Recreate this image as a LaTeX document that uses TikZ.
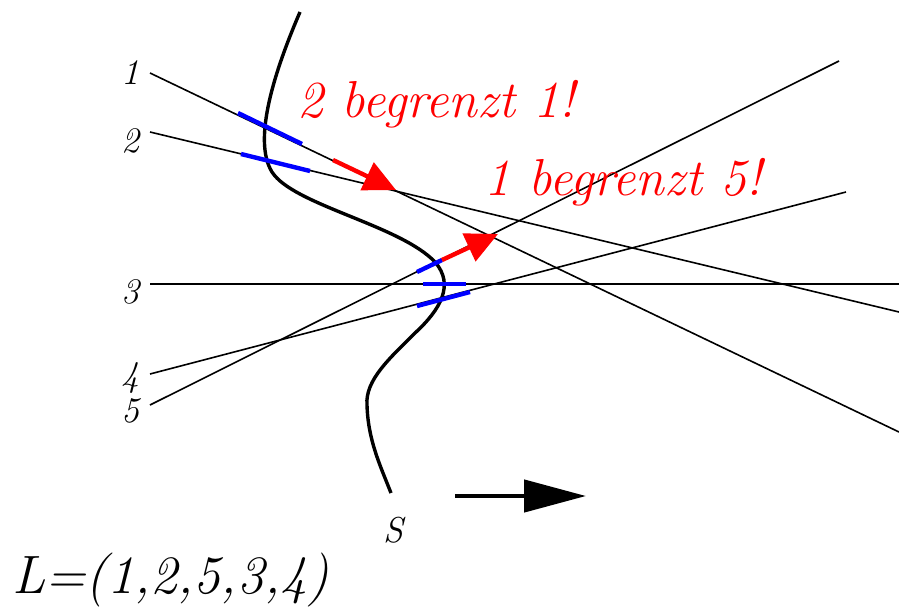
\documentclass[tikz,border=0pt]{standalone}
\usetikzlibrary{arrows.meta}
\begin{document}
\begin{tikzpicture}[x=1pt,y=-1pt,
  thinline/.style={line width=1.6pt},
  seg/.style={blue,line width=4.4pt},
  redarr/.style={red,line width=4.4pt,-{Triangle[length=32pt,width=30pt]}},
  lbl/.style={font=\fontsize{36}{40}\selectfont\itshape,inner sep=0pt},
  msg/.style={red,font=\fontsize{52}{56}\selectfont\itshape,inner sep=0pt,anchor=west}]
\useasboundingbox (0,0) rectangle (899,613);
% line end coordinates
\coordinate (a1) at (150,73);  \coordinate (b1) at (899,432);
\coordinate (a2) at (150,132); \coordinate (b2) at (899,312);
\coordinate (a3) at (150,284); \coordinate (b3) at (899,284);
\coordinate (a4) at (150,374); \coordinate (b4) at (846,192);
\coordinate (a5) at (150,405); \coordinate (b5) at (839,61);
\foreach \i in {1,...,5}{\draw[thinline] (a\i) -- (b\i);}
% labels
\node[lbl] (l1) at (130,73) {1};
\node[lbl] (l2) at (130,141) {2};
\node[lbl] (l3) at (130,292) {3};
\node[lbl] (l4) at (130,378) {4};
\node[lbl] (l5) at (130,411) {5};
% sweep curve
\draw[line width=3.4pt] (300,12) .. controls (275,70) and (252,140) .. (272,172)
  .. controls (293,205) and (400,225) .. (435,262)
  .. controls (455,285) and (440,310) .. (415,333)
  .. controls (390,358) and (365,380) .. (367,405)
  .. controls (368,440) and (380,465) .. (391,493);
\node[font=\fontsize{36}{40}\selectfont\itshape,inner sep=0pt] (S) at (393,530) {S};
% blue segments
\coordinate (p1a) at (238,113); \coordinate (p1b) at (302,144);
\coordinate (p2a) at (241,154); \coordinate (p2b) at (310,171);
\coordinate (p3a) at (423,284); \coordinate (p3b) at (466,284);
\coordinate (p4a) at (417,306); \coordinate (p4b) at (470,292);
\coordinate (p5a) at (417,272); \coordinate (p5b) at (442,260);
\foreach \i in {1,...,5}{\draw[seg] (p\i a) -- (p\i b);}
% red arrows
\coordinate (r1a) at (333,160); \coordinate (r1b) at (396,190);
\coordinate (r5a) at (442,260); \coordinate (r5b) at (498,234);
\draw[redarr] (r1a) -- (r1b);
\draw[redarr] (r5a) -- (r5b);
\node[msg] (m1) at (297,104) {2 begrenzt 1!};
\node[msg] (m2) at (484,182) {1 begrenzt 5!};
% direction arrow
\coordinate (d1) at (455,496); \coordinate (d2) at (586,496);
\draw[line width=4.5pt,-{Triangle[length=62pt,width=32pt]}] (d1) -- (d2);
\node[font=\fontsize{54}{58}\selectfont\itshape,inner sep=0pt,anchor=west] (L) at (12,580) {L=(1,2,5,3,4)};
\end{tikzpicture}
\end{document}
